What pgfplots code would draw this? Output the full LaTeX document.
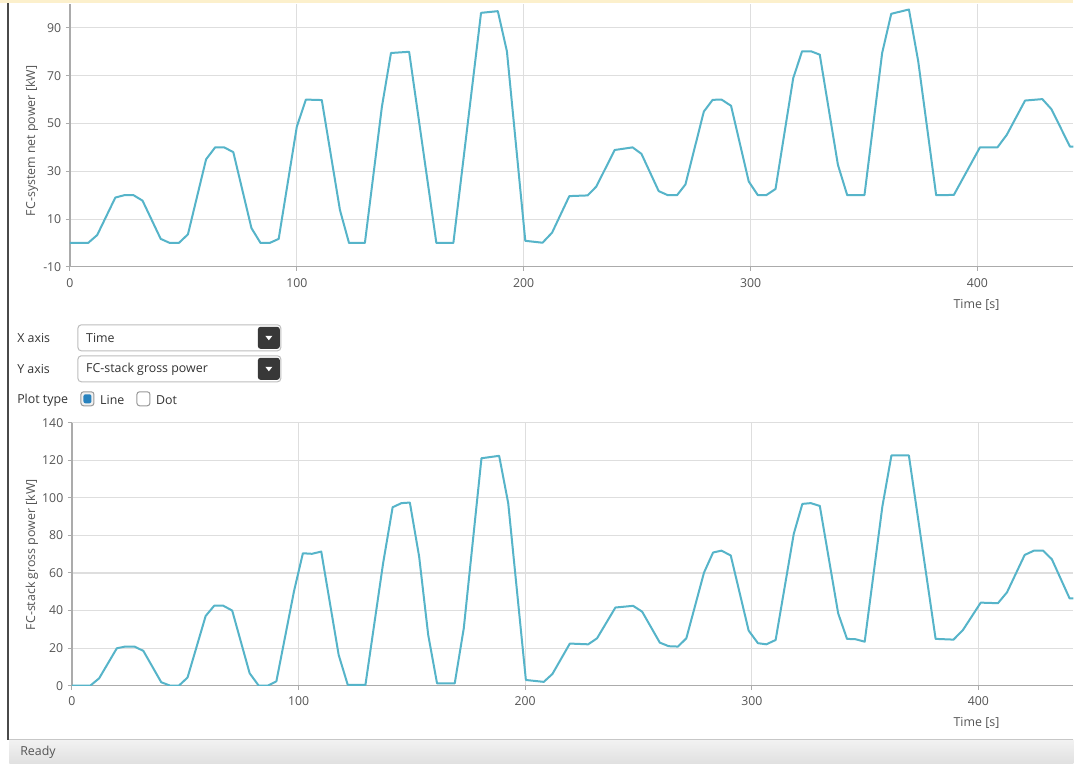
\documentclass[border=0pt]{standalone}
\usepackage{fontspec}
\setmainfont{Open Sans}
\usepackage{pgfplots}
\pgfplotsset{compat=1.18}

\definecolor{curve}{HTML}{56B4C9}
\definecolor{gridc}{HTML}{DEDEDE}
\definecolor{axisc}{HTML}{ABABAB}
\definecolor{txt}{HTML}{555555}
\definecolor{bandc}{HTML}{FCF0CC}
\definecolor{framec}{HTML}{4A4A4A}

\pgfplotstableread{
t y
0 0
8 0
12 3.3
20 19
24 20
28 20
32 17.7
40 1.7
44 0
48 0
52 3.6
60 35
64 40
68 40
72 38
80 6.2
84 0
88 0
92 1.7
100 48.7
104 60
111 59.8
119 13.8
123 0
130 0
137.5 57
141.5 79.5
149.5 80
161.5 0
169 0
181.2 96.3
188.6 97
192.6 80.2
200.7 0.9
208.3 0.1
212.5 4.3
220.1 19.6
228.2 19.9
232 23.6
240.1 38.9
248 40
251.9 37.3
259.5 21.7
263.5 20
267.6 20
271.3 24.5
279.4 55
283.3 59.9
287.2 60
291.4 57.4
299.2 25.7
303.2 20
306.9 20
311 22.6
318.8 69
322.7 80.2
326.7 80.2
330.5 78.8
338.5 32.7
342.6 20
350.2 20
358 79.5
362 95.9
369.8 97.7
373.9 76
381.8 20
389.6 20.1
401.1 40
408.8 40
412.9 45.2
421 59.6
428.6 60.2
432.6 56
440.8 40.3
446 40.3
}\netpower

\pgfplotstableread{
t y
0 0
8.1 0
12 3.9
19.8 19.9
23.5 20.8
27.6 20.8
31.5 18.5
39.4 1.8
43.3 0
47.2 0
51 4.3
59 37.1
62.8 42.6
66.7 42.6
70.7 40
78.4 6.6
82.4 0
86.5 0
90.2 2.3
98 50.4
101.9 70.5
105.9 70.2
110 71.4
117.7 16.3
121.7 0.4
129.5 0.4
137.3 65.2
141.5 95
145.4 97.2
149.1 97.5
153.2 68.7
157.2 27
161.1 1.2
168.9 1.2
172.9 30.6
180.7 121.1
188.5 122.4
192.5 97.2
200.3 3
208.2 2
212 6.2
219.7 22.4
227.8 22
231.7 25.2
239.8 41.6
247.6 42.5
251.6 39.4
259.4 22.9
263.3 21
267.4 20.8
271.1 25.2
278.9 60.2
282.9 70.9
286.6 71.9
290.7 69.3
298.6 29.3
302.7 22.6
306.4 22
310.5 24.3
318.5 80.8
322.3 96.8
326 97.2
330 95.7
338.1 38.5
342 24.9
345.8 24.7
349.8 23.4
357.6 95.4
361.6 122.6
369.3 122.6
381.1 24.9
389 24.5
393.2 29.7
401 44.2
408.6 43.9
412.6 49.7
420.4 69.6
424.5 71.9
428.5 71.9
432.4 67.3
440.2 46.5
446 46.5
}\grosspower

\pgfplotsset{appstyle/.style={
  scale only axis,
  axis lines=left,
  axis line style={draw=axisc, line width=0.9pt, -},
  grid=major,
  major grid style={draw=gridc, line width=0.8pt},
  tick align=outside,
  major tick length=3pt,
  tick style={draw=axisc, line width=0.75pt},
  xtick={0,100,...,400},
  ticklabel style={font=\fontsize{9.2}{10}\selectfont, text=txt},
  xticklabel style={yshift=-2pt},
  /pgf/number format/assume math mode=true,
  enlargelimits=false,
}}

\begin{document}
\begin{tikzpicture}
\begin{scope}[x=0.75pt,y=-0.75pt]
  \useasboundingbox (0,0) rectangle (1074,764);
  \fill[white] (0,0) rectangle (1074,764);
\end{scope}

\begin{axis}[appstyle,
  at={(52.5pt,-200.25pt)}, anchor=south west,
  width=753pt, height=197.25pt,
  xmin=0, xmax=442.3,
  ymin=-10, ymax=100,
  ytick={-10,10,...,90},
]
\addplot[draw=curve, line width=1.5pt, line join=round, no marks] table[x=t,y=y] {\netpower};
\end{axis}

\begin{axis}[appstyle,
  at={(54pt,-514.5pt)}, anchor=south west,
  width=751.5pt, height=197.25pt,
  xmin=0, xmax=441.9,
  ymin=0, ymax=140,
  ytick={0,20,...,140},
]
\addplot[draw=curve, line width=1.5pt, line join=round, no marks] table[x=t,y=y] {\grosspower};
\end{axis}

\begin{scope}[x=0.75pt,y=-0.75pt, every node/.style={font=\fontsize{9.3}{10}\selectfont, text=txt, inner sep=0pt}]
  % top band and frame
  \fill[bandc] (0,0) rectangle (1074,3.5);
  \draw[framec, line width=1.5pt] (8.5,3.5) -- (8.5,740);
  % status bar
  \shade[top color=white!95!black, bottom color=white!88!black] (9.5,740) rectangle (1074,764);
  \draw[draw=white!78!black, line width=0.75pt] (9.5,739.5) -- (1074,739.5);
  \node[anchor=west] at (20,753) {Ready};

  % axis labels
  \node[rotate=90] at (32,141) {FC-system net power [kW]};
  \node[rotate=90] at (32,555) {FC-stack gross power [kW]};
  \node at (977,305) {Time [s]};
  \node at (977,723) {Time [s]};

  % controls
  \node[anchor=west, text=black!80] at (17,338) {X axis};
  \draw[draw=white!74!black, fill=white, rounded corners=2.5pt, line width=0.75pt] (78,325) rectangle (281,351);
  \fill[black!78, rounded corners=2pt] (258,327) rectangle (280,349);
  \fill[white] (265.5,336) -- (272.5,336) -- (269,340.5) -- cycle;
  \node[anchor=west, text=black!80] at (86,338) {Time};

  \node[anchor=west, text=black!80] at (17,369) {Y axis};
  \draw[draw=white!74!black, fill=white, rounded corners=2.5pt, line width=0.75pt] (78,356) rectangle (281,382);
  \fill[black!78, rounded corners=2pt] (258,358) rectangle (280,380);
  \fill[white] (265.5,367) -- (272.5,367) -- (269,371.5) -- cycle;
  \node[anchor=west, text=black!80] at (86,369) {FC-stack gross power};

  \node[anchor=west, text=black!80] at (17,400) {Plot type};
  \draw[draw=white!60!black, fill=white!94!black, rounded corners=2pt, line width=0.75pt] (81,392) rectangle (94,406);
  \fill[fill={rgb,255:red,40;green,130;blue,190}, rounded corners=1.5pt] (83.5,394.5) rectangle (91.5,403.5);
  \node[anchor=west, text=black!80] at (100,400) {Line};
  \draw[draw=white!60!black, fill=white, rounded corners=2pt, line width=0.75pt] (137,392) rectangle (150,406);
  \node[anchor=west, text=black!80] at (156,400) {Dot};
\end{scope}
\end{tikzpicture}
\end{document}
